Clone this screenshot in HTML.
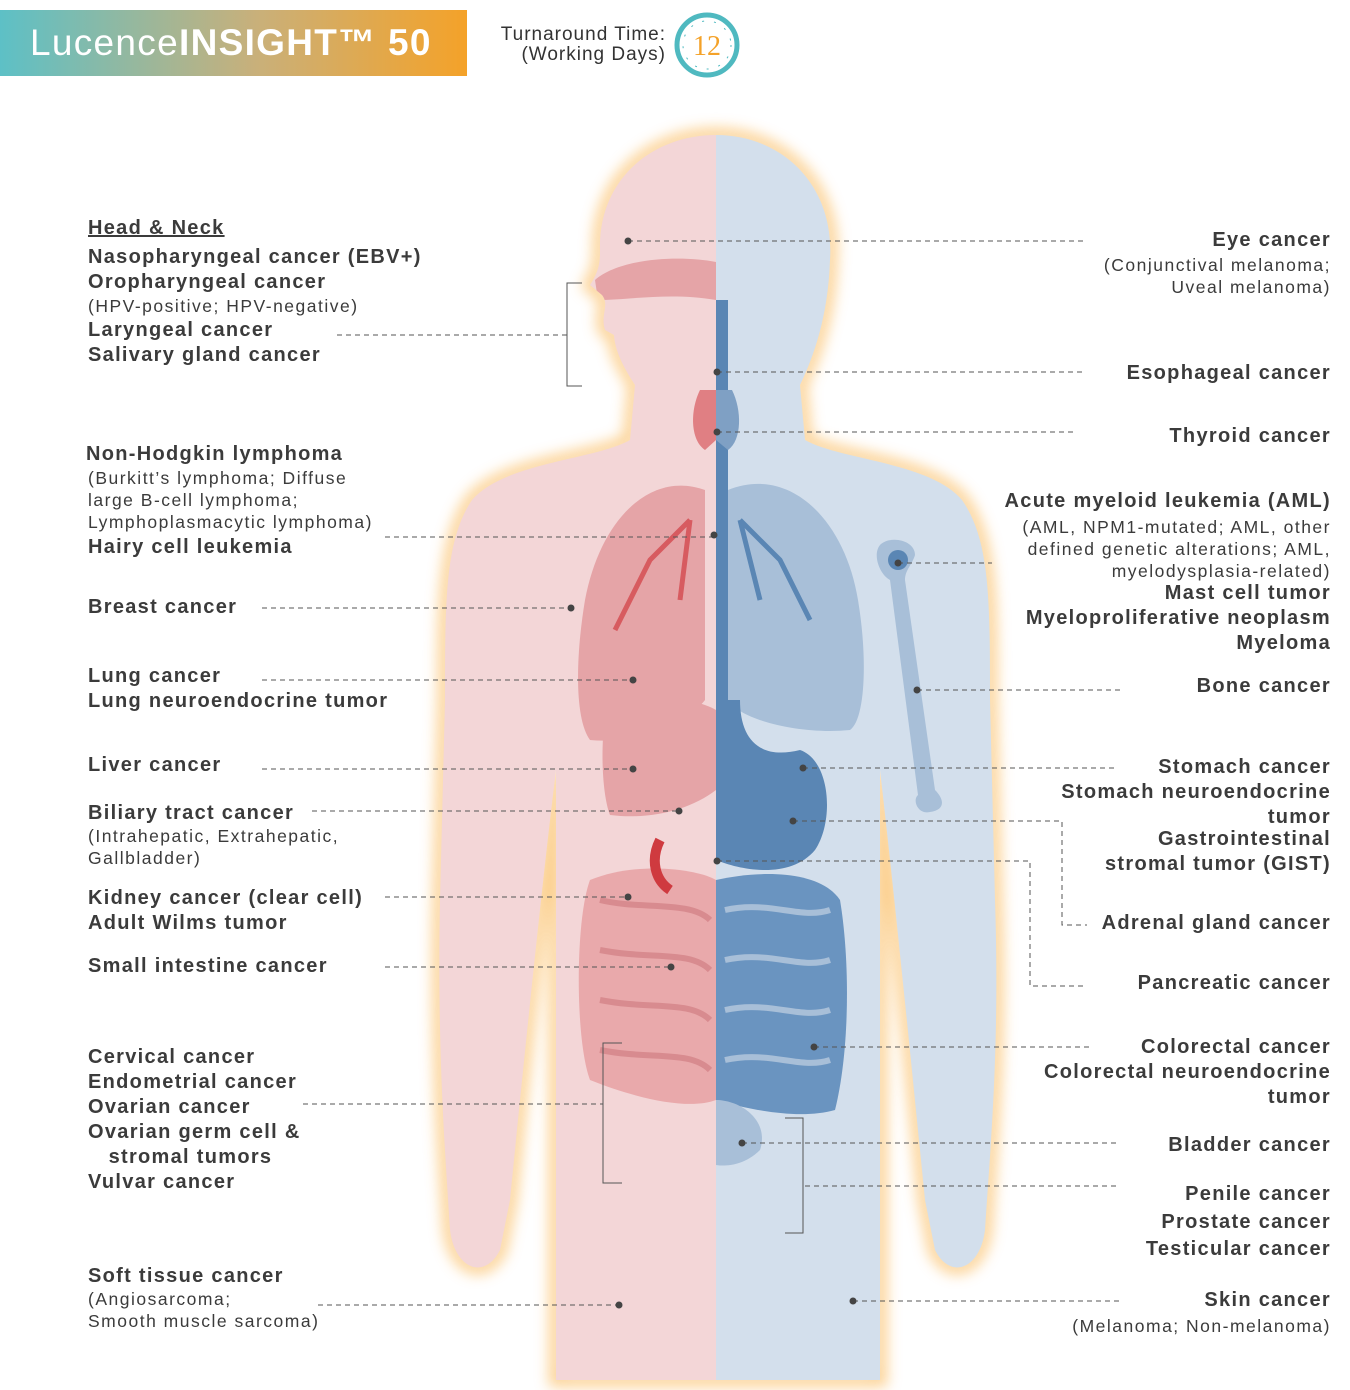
<!DOCTYPE html>
<html><head><meta charset="utf-8"><style>
body{margin:0;width:1350px;height:1390px;background:#fff;position:relative;overflow:hidden;font-family:"Liberation Sans",sans-serif;color:#3b3b3b}
.t{position:absolute;font-size:20px;font-weight:bold;letter-spacing:1.3px;line-height:25px;white-space:nowrap}
.s{font-weight:normal;font-size:17.5px;line-height:22px;letter-spacing:1.5px}
.r{text-align:right;right:19px}
.l{left:88px}
</style></head><body>
<div style="position:absolute;left:0;top:10px;width:467px;height:66px;background:linear-gradient(90deg,#5dc0c6,#c9b07a 55%,#f4a229)"></div>
<div style="position:absolute;left:30px;top:22px;font-size:37px;color:#fff;letter-spacing:1.3px">Lucence<b>INSIGHT™ 50</b></div>
<div style="position:absolute;left:470px;top:25px;width:196px;text-align:right;font-size:19px;line-height:20px;color:#333;letter-spacing:1px">Turnaround Time:<br>(Working Days)</div>
<svg style="position:absolute;left:672px;top:10px" width="72" height="72"><circle cx="35" cy="35" r="30" fill="#fff" stroke="#4fb9c0" stroke-width="5"/><circle cx="35" cy="35" r="24" fill="none" stroke="#4fb9c0" stroke-width="1" stroke-dasharray="2 10"/><text x="35" y="45" text-anchor="middle" font-family="Liberation Serif" font-size="28" fill="#f4a229">12</text></svg>

<svg style="position:absolute;left:0;top:0" width="1350" height="1390">
<defs>
<path id="body" d="M716,135 C782,135 835,185 830,260 C828,320 812,360 800,385 L805,440 C840,460 930,462 962,500 C990,540 990,600 990,700 L995,900 C1000,1050 990,1150 985,1230 C980,1270 950,1280 935,1250 L925,1200 C915,1100 895,900 880,770 L880,1380 L556,1380 L556,770 C540,900 520,1100 510,1200 L500,1250 C485,1280 455,1270 450,1230 C445,1150 437,1050 440,900 L445,700 C445,600 445,540 472,500 C505,462 595,460 630,440 L635,385 C622,365 615,350 614,335 L605,330 C600,315 610,305 602,295 L590,285 C600,270 600,260 600,250 C598,180 652,135 716,135 Z"/>
<clipPath id="cp"><use href="#body"/></clipPath>
<filter id="gl" x="-20%" y="-20%" width="140%" height="140%"><feGaussianBlur stdDeviation="7"/></filter>
</defs>
<use href="#body" fill="none" stroke="#fbc678" stroke-width="14" filter="url(#gl)" opacity=".8"/>
<g clip-path="url(#cp)">
<rect x="0" y="0" width="716" height="1390" fill="#f3d6d7"/>
<rect x="716" y="0" width="700" height="1390" fill="#d3dfec"/>
<path d="M705,490 C650,470 600,520 585,600 C575,660 575,720 590,740 C640,745 690,720 705,700 Z" fill="#e5a4a7"/>
<path d="M728,490 C790,465 845,520 858,600 C868,660 865,720 850,730 C800,735 740,720 728,700 Z" fill="#a8bfd8"/>
<path d="M595,280 C620,258 680,255 716,262 L716,300 C670,292 630,300 598,300 Z" fill="#e5a4a7"/>
<path d="M716,300 L728,300 L728,700 L716,700 Z" fill="#5a86b4"/>
<path d="M700,390 C690,410 690,440 705,450 L716,440 L716,390Z" fill="#e07f83"/>
<path d="M732,390 C742,410 742,440 728,450 L716,440 L716,390Z" fill="#7fa0c4"/>
<path d="M610,700 C650,690 700,700 716,710 L716,790 C690,810 650,820 610,815 C600,790 600,720 610,700Z" fill="#e5a4a7"/>
<path d="M716,700 L740,700 C740,740 760,760 800,750 C830,760 835,820 815,850 C790,880 740,870 716,860 Z" fill="#5a86b4"/>
<path d="M590,880 C640,860 700,870 716,880 L716,1100 C690,1110 640,1100 590,1080 C575,1040 575,920 590,880Z" fill="#e9a9ab"/>
<path d="M716,880 C760,870 820,870 840,900 C850,960 850,1050 835,1110 C800,1120 750,1110 716,1100 Z" fill="#6a94c0"/>
<path d="M600,900 C640,910 690,900 710,920 M600,950 C650,960 690,950 710,970 M600,1000 C650,1010 690,1000 710,1020 M600,1050 C650,1060 690,1050 710,1070" stroke="#d88b8f" stroke-width="6" fill="none"/>
<path d="M725,910 C770,900 800,920 830,910 M725,960 C770,950 800,970 830,960 M725,1010 C770,1000 800,1020 830,1010 M725,1060 C770,1050 800,1070 830,1060" stroke="#a8bfd8" stroke-width="6" fill="none"/>
<path d="M716,1100 C740,1100 770,1120 760,1150 C740,1170 716,1165 716,1165Z" fill="#a8bfd8"/>
<path d="M660,840 C650,860 655,880 670,890" stroke="#cf3a3f" stroke-width="10" fill="none"/>
<path d="M880,545 C890,535 915,540 915,555 C912,565 905,570 905,580 L935,790 C945,800 945,810 930,812 C918,815 912,800 918,795 L890,580 C880,575 872,555 880,545Z" fill="#a8bfd8"/>
<circle cx="898" cy="560" r="10" fill="#5a86b4"/>
<path d="M690,520 L650,560 L615,630 M690,520 L680,600" stroke="#d75b60" stroke-width="5" fill="none"/>
<path d="M740,520 L780,560 L810,620 M740,520 L760,600" stroke="#5a86b4" stroke-width="5" fill="none"/>
</g>
<g stroke="#555" stroke-width="1" stroke-dasharray="5 4" fill="none">
<path d="M628,241H1085M337,335H567M717,372H1082M717,432H1077M385,537H714M898,563H992M262,608H571M917,690H1120M262,680H633M262,769H633M803,768H1118M312,811H679M793,821H1062V925H1087M717,861H1030V986H1085M385,897H628M385,967H671M814,1047H1092M303,1104H603M742,1143H1120M805,1186H1120M318,1305H619M853,1301H1120"/>
</g>
<g stroke="#555" stroke-width="1" fill="none">
<path d="M582,283H567V386H582M622,1043H603V1183H622M785,1118H803V1233H785"/>
</g>
<g fill="#444">
<circle cx="628" cy="241" r="3.5"/><circle cx="717" cy="372" r="3.5"/><circle cx="717" cy="432" r="3.5"/><circle cx="714" cy="535" r="3.5"/><circle cx="898" cy="563" r="3.5"/><circle cx="571" cy="608" r="3.5"/><circle cx="917" cy="690" r="3.5"/><circle cx="633" cy="680" r="3.5"/><circle cx="633" cy="769" r="3.5"/><circle cx="803" cy="768" r="3.5"/><circle cx="679" cy="811" r="3.5"/><circle cx="793" cy="821" r="3.5"/><circle cx="717" cy="861" r="3.5"/><circle cx="628" cy="897" r="3.5"/><circle cx="671" cy="967" r="3.5"/><circle cx="814" cy="1047" r="3.5"/><circle cx="742" cy="1143" r="3.5"/><circle cx="619" cy="1305" r="3.5"/><circle cx="853" cy="1301" r="3.5"/>
</g>
</svg>

<div class="t l" style="top:216px;text-decoration:underline">Head &amp; Neck</div>
<div class="t l" style="top:245px">Nasopharyngeal cancer (EBV+)<br>Oropharyngeal cancer</div>
<div class="t l s" style="top:295px">(HPV-positive; HPV-negative)</div>
<div class="t l" style="top:318px">Laryngeal cancer<br>Salivary gland cancer</div>
<div class="t l" style="top:442px;left:86px">Non-Hodgkin lymphoma</div>
<div class="t l s" style="top:467px">(Burkitt’s lymphoma; Diffuse<br>large B-cell lymphoma;<br>Lymphoplasmacytic lymphoma)</div>
<div class="t l" style="top:535px">Hairy cell leukemia</div>
<div class="t l" style="top:595px">Breast cancer</div>
<div class="t l" style="top:664px">Lung cancer<br>Lung neuroendocrine tumor</div>
<div class="t l" style="top:753px">Liver cancer</div>
<div class="t l" style="top:801px">Biliary tract cancer</div>
<div class="t l s" style="top:825px">(Intrahepatic, Extrahepatic,<br>Gallbladder)</div>
<div class="t l" style="top:886px">Kidney cancer (clear cell)<br>Adult Wilms tumor</div>
<div class="t l" style="top:954px">Small intestine cancer</div>
<div class="t l" style="top:1045px">Cervical cancer<br>Endometrial cancer<br>Ovarian cancer<br>Ovarian germ cell &amp;<br>&nbsp;&nbsp;&nbsp;stromal tumors<br>Vulvar cancer</div>
<div class="t l" style="top:1264px">Soft tissue cancer</div>
<div class="t l s" style="top:1288px">(Angiosarcoma;<br>Smooth muscle sarcoma)</div>

<div class="t r" style="top:228px">Eye cancer</div>
<div class="t r s" style="top:254px">(Conjunctival melanoma;<br>Uveal melanoma)</div>
<div class="t r" style="top:361px">Esophageal cancer</div>
<div class="t r" style="top:424px">Thyroid cancer</div>
<div class="t r" style="top:489px">Acute myeloid leukemia (AML)</div>
<div class="t r s" style="top:516px">(AML, NPM1-mutated; AML, other<br>defined genetic alterations; AML,<br>myelodysplasia-related)</div>
<div class="t r" style="top:581px">Mast cell tumor<br>Myeloproliferative neoplasm<br>Myeloma</div>
<div class="t r" style="top:674px">Bone cancer</div>
<div class="t r" style="top:755px">Stomach cancer<br>Stomach neuroendocrine<br>tumor</div>
<div class="t r" style="top:827px">Gastrointestinal<br>stromal tumor (GIST)</div>
<div class="t r" style="top:911px">Adrenal gland cancer</div>
<div class="t r" style="top:971px">Pancreatic cancer</div>
<div class="t r" style="top:1035px">Colorectal cancer<br>Colorectal neuroendocrine<br>tumor</div>
<div class="t r" style="top:1133px">Bladder cancer</div>
<div class="t r" style="top:1181px;line-height:27.5px">Penile cancer<br>Prostate cancer<br>Testicular cancer</div>
<div class="t r" style="top:1288px">Skin cancer</div>
<div class="t r s" style="top:1315px">(Melanoma; Non-melanoma)</div>
</body></html>
